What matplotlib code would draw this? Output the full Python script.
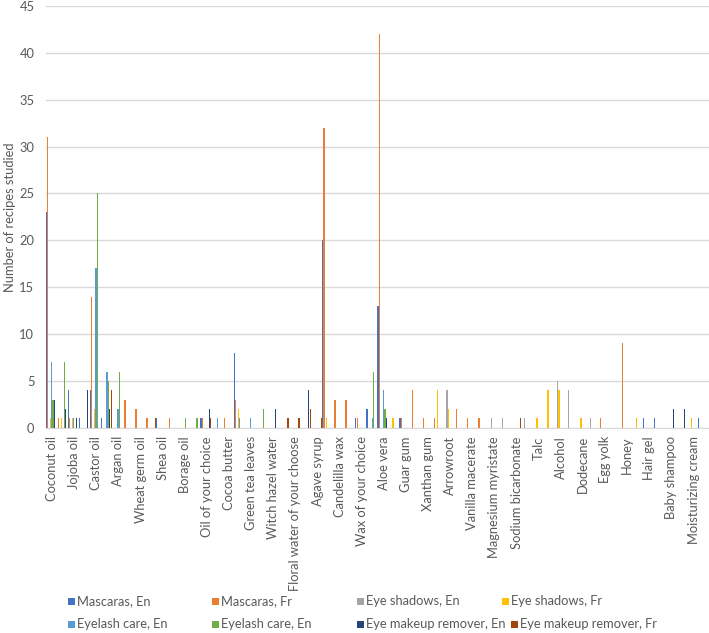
import matplotlib
matplotlib.use("Agg")
import matplotlib.pyplot as plt
from matplotlib.patches import Rectangle
import numpy as np

# every other category label is shown (Excel skips the rest)
shown_labels = ["Coconut oil", "Jojoba oil", "Castor oil", "Argan oil", "Wheat germ oil",
                "Shea oil", "Borage oil", "Oil of your choice", "Cocoa butter", "Green tea leaves",
                "Witch hazel water", "Floral water of your choose", "Agave syrup", "Candelilla wax",
                "Wax of your choice", "Aloe vera", "Guar gum", "Xanthan gum", "Arrowroot",
                "Vanilla macerate", "Magnesium myristate", "Sodium bicarbonate", "Talc", "Alcohol",
                "Dodecane", "Egg yolk", "Honey", "Hair gel", "Baby shampoo", "Moisturizing cream"]
labels = []
for name in shown_labels:
    labels += [name, ""]

series_names = ["Mascaras, En", "Mascaras, Fr", "Eye shadows, En", "Eye shadows, Fr",
                "Eyelash care, En", "Eyelash care, En", "Eye makeup remover, En",
                "Eye makeup remover, Fr"]

mascaras_en = [23, 0, 4, 1, 4, 1, 0, 0, 0, 0,
               1, 0, 0, 0, 1, 0, 0, 8, 0, 0,
               0, 0, 0, 0, 0, 20, 0, 0, 1, 2,
               13, 0, 1, 0, 0, 0, 0, 0, 0, 0,
               0, 0, 0, 0, 0, 0, 0, 0, 0, 0,
               0, 0, 0, 0, 1, 1, 0, 0, 0, 1]
mascaras_fr = [31, 1, 1, 0, 14, 0, 0, 3, 2, 1,
               0, 1, 0, 0, 1, 0, 1, 3, 0, 0,
               0, 0, 0, 0, 0, 32, 3, 3, 1, 0,
               42, 0, 1, 4, 1, 1, 0, 2, 1, 1,
               0, 0, 0, 0, 0, 0, 0, 0, 0, 0,
               1, 0, 9, 0, 0, 0, 0, 0, 0, 0]
shadows_en = [0, 0, 0, 0, 0, 0, 0, 0, 0, 0,
              0, 0, 0, 0, 0, 0, 0, 0, 0, 0,
              0, 0, 0, 0, 0, 0, 0, 0, 0, 0,
              0, 0, 0, 0, 0, 0, 4, 0, 0, 0,
              1, 1, 0, 1, 0, 0, 5, 4, 0, 1,
              0, 0, 0, 0, 0, 0, 0, 0, 0, 0]
shadows_fr = [1, 1, 1, 0, 2, 0, 0, 0, 0, 0,
              0, 0, 0, 0, 0, 0, 0, 2, 0, 0,
              0, 0, 0, 0, 0, 1, 0, 0, 0, 0,
              0, 1, 0, 0, 0, 4, 2, 0, 0, 0,
              0, 0, 0, 0, 1, 4, 4, 0, 1, 0,
              0, 0, 0, 1, 0, 0, 0, 0, 1, 0]
lash_en = [7, 0, 1, 0, 17, 6, 2, 0, 0, 0,
           0, 0, 0, 0, 0, 1, 0, 1, 1, 0,
           0, 0, 0, 0, 0, 0, 0, 0, 0, 1,
           4, 0, 0, 0, 0, 0, 0, 0, 0, 0,
           0, 0, 0, 0, 0, 0, 0, 0, 0, 0,
           0, 0, 0, 0, 0, 0, 0, 0, 0, 0]
lash_en_2 = [3, 7, 0, 0, 25, 5, 6, 0, 0, 0,
             0, 0, 1, 1, 0, 0, 0, 0, 0, 2,
             0, 0, 0, 0, 0, 0, 0, 0, 0, 6,
             2, 0, 0, 0, 0, 0, 0, 0, 0, 0,
             0, 0, 0, 0, 0, 0, 0, 0, 0, 0,
             0, 0, 0, 0, 0, 0, 0, 0, 0, 0]
remover_en = [3, 2, 1, 4, 0, 2, 0, 0, 0, 0,
              0, 0, 0, 0, 2, 0, 0, 0, 0, 0,
              2, 0, 0, 4, 0, 0, 0, 0, 0, 0,
              1, 0, 0, 0, 0, 0, 0, 0, 0, 0,
              0, 0, 0, 0, 0, 0, 0, 0, 0, 0,
              0, 0, 0, 0, 0, 0, 2, 2, 0, 0]
remover_fr = [0, 0, 0, 0, 0, 4, 0, 0, 0, 1,
              0, 0, 0, 0, 1, 0, 0, 0, 0, 0,
              0, 1, 1, 2, 1, 0, 0, 0, 0, 0,
              0, 0, 0, 0, 0, 0, 0, 0, 0, 0,
              0, 0, 1, 0, 0, 0, 0, 0, 0, 0,
              0, 0, 0, 0, 0, 0, 0, 0, 0, 0]

series = [mascaras_en, mascaras_fr, shadows_en, shadows_fr,
          lash_en, lash_en_2, remover_en, remover_fr]
colors = ["#4472C4", "#ED7D31", "#A5A5A5", "#FFC000",
          "#5B9BD5", "#70AD47", "#264478", "#9E480E"]

plt.rcParams['font.family'] = ['Lato', 'DejaVu Sans']
txt = "#595959"
fs = 9.3

W, H = 709, 633
fig = plt.figure(figsize=(W / 100, H / 100), dpi=100)
ax = fig.add_axes([45.5 / W, 1 - 427.8 / H, 1 - 45.5 / W, (427.8 - 6) / H])

x = np.arange(len(labels))
n = len(series)
w = 1.0 / n
for j, (vals, col) in enumerate(zip(series, colors)):
    ax.bar(x - 0.5 + w * (j + 0.5), vals, width=w * 0.95, color=col, linewidth=0)

ax.set_xlim(-0.5, len(labels) - 0.5)
ax.set_ylim(0, 45)
ax.set_yticks(range(0, 46, 5))
ax.set_xticks(x + 0.1)
ax.set_xticklabels(labels, rotation=90, fontsize=fs, color=txt)
ax.tick_params(axis='x', length=0, pad=6)
ax.tick_params(axis='y', length=0, labelsize=fs, labelcolor=txt, pad=8)
ax.yaxis.grid(True, color="#D9D9D9", linewidth=1)
ax.set_axisbelow(True)
for s in ["top", "right", "left"]:
    ax.spines[s].set_visible(False)
ax.spines["bottom"].set_color("#D9D9D9")
fig.text(10 / W, 1 - 217 / H, "Number of recipes studied", rotation=90,
         fontsize=fs, color=txt, ha="center", va="center")

# legend laid out like Excel: two rows of four entries
leg_x = [[71, 215, 360, 505], [71, 215, 360, 514]]
leg_y = [601, 624]
for j, (name, col) in enumerate(zip(series_names, colors)):
    r, c = divmod(j, 4)
    px, py = leg_x[r][c], leg_y[r]
    fig.patches.append(Rectangle(((px - 3.5) / W, 1 - (py + 3.5) / H), 7 / W, 7 / H,
                                 transform=fig.transFigure, color=col, linewidth=0))
    fig.text((px + 6) / W, 1 - py / H, name, fontsize=fs, color=txt, va="center", ha="left")

fig.savefig("out.png", dpi=100)
